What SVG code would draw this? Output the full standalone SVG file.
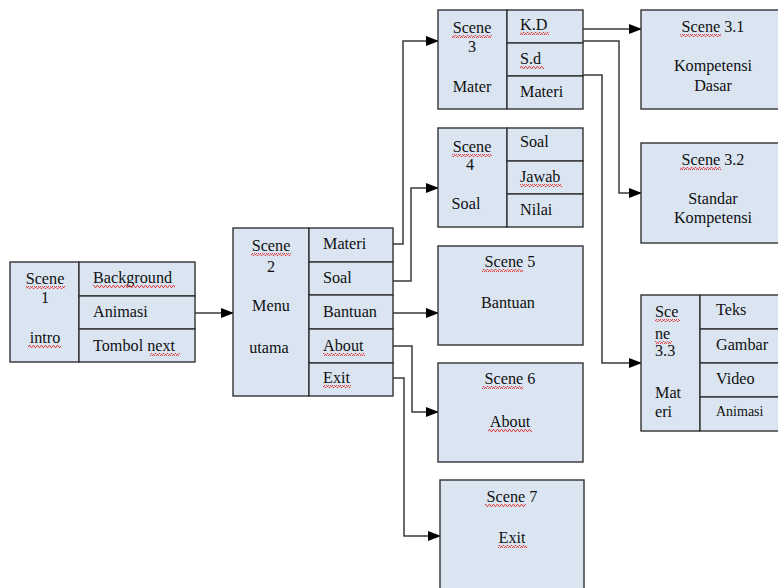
<svg xmlns="http://www.w3.org/2000/svg" width="778" height="588" viewBox="0 0 778 588">
<style>
.bx{fill:#dbe5f1;stroke:#333;stroke-width:1.4}
.t{font-family:"Liberation Serif","Times New Roman",serif;font-size:16.2px;fill:#111}
.c{text-anchor:middle}
.sm{font-size:14px}
.ln{fill:none;stroke:#3a3a3a;stroke-width:1.5}
.sq{fill:url(#wave)}
</style>
<defs>
<marker id="ah" markerWidth="13" markerHeight="10" refX="12" refY="5" orient="auto" markerUnits="userSpaceOnUse">
<path d="M0,0 L13,5 L0,10 Z" fill="#000"/>
</marker>
<pattern id="wave" width="4" height="3" patternUnits="userSpaceOnUse">
<path d="M0,2.5 L1,0.5 L2,0.5 L3,2.5 L4,2.5" fill="none" stroke="#e03030" stroke-width="0.9"/>
</pattern>
</defs>
<rect width="778" height="588" fill="#fff"/>

<g id="connectors">
<path class="ln" d="M195,313 H233" marker-end="url(#ah)"/>
<path class="ln" d="M393,244 H403 V41 H438" marker-end="url(#ah)"/>
<path class="ln" d="M393,281 H411 V188 H438" marker-end="url(#ah)"/>
<path class="ln" d="M393,313 H438" marker-end="url(#ah)"/>
<path class="ln" d="M393,346 H412 V412 H438" marker-end="url(#ah)"/>
<path class="ln" d="M393,378 H404 V536 H440" marker-end="url(#ah)"/>
<path class="ln" d="M583,29 H641" marker-end="url(#ah)"/>
<path class="ln" d="M583,41 H619 V193 H641" marker-end="url(#ah)"/>
<path class="ln" d="M583,75 H602 V363 H641" marker-end="url(#ah)"/>
</g>

<g id="scene1">
<rect class="bx" x="10" y="262" width="69" height="100"/>
<rect class="bx" x="79" y="262" width="116" height="34"/>
<rect class="bx" x="79" y="296" width="116" height="33"/>
<rect class="bx" x="79" y="329" width="116" height="33"/>
<text class="t c" x="45" y="284">Scene</text>
<text class="t c" x="45" y="303">1</text>
<text class="t c" x="45" y="343">intro</text>
<text class="t" x="93" y="283">Background</text>
<text class="t" x="93" y="317">Animasi</text>
<text class="t" x="93" y="351">Tombol next</text>
<rect class="sq" x="26" y="286" width="39" height="3"/>
<rect class="sq" x="28" y="345" width="33" height="3"/>
<rect class="sq" x="93" y="285" width="82" height="3"/>
<rect class="sq" x="150" y="353" width="30" height="3"/>
</g>

<g id="scene2">
<rect class="bx" x="233" y="228" width="76" height="168"/>
<rect class="bx" x="309" y="228" width="84" height="34"/>
<rect class="bx" x="309" y="262" width="84" height="33"/>
<rect class="bx" x="309" y="295" width="84" height="34"/>
<rect class="bx" x="309" y="329" width="84" height="34"/>
<rect class="bx" x="309" y="363" width="84" height="33"/>
<text class="t c" x="271" y="251">Scene</text>
<text class="t c" x="271" y="272">2</text>
<text class="t c" x="271" y="311">Menu</text>
<text class="t c" x="269" y="353">utama</text>
<text class="t" x="323" y="249">Materi</text>
<text class="t" x="323" y="283">Soal</text>
<text class="t" x="323" y="317">Bantuan</text>
<text class="t" x="323" y="351">About</text>
<text class="t" x="323" y="383">Exit</text>
<rect class="sq" x="251" y="253" width="40" height="3"/>
<rect class="sq" x="323" y="353" width="42" height="3"/>
<rect class="sq" x="323" y="385" width="28" height="3"/>
</g>

<g id="scene3">
<rect class="bx" x="438" y="10" width="69" height="99"/>
<rect class="bx" x="507" y="10" width="76" height="33"/>
<rect class="bx" x="507" y="43" width="76" height="33"/>
<rect class="bx" x="507" y="76" width="76" height="33"/>
<text class="t c" x="472" y="33">Scene</text>
<text class="t c" x="472" y="52">3</text>
<text class="t c" x="472" y="92">Mater</text>
<text class="t" x="520" y="30">K.D</text>
<text class="t" x="520" y="64">S.d</text>
<text class="t" x="520" y="97">Materi</text>
<rect class="sq" x="452" y="35" width="40" height="3"/>
<rect class="sq" x="520" y="32" width="29" height="3"/>
<rect class="sq" x="520" y="66" width="24" height="3"/>
</g>

<g id="scene4">
<rect class="bx" x="438" y="128" width="69" height="99"/>
<rect class="bx" x="507" y="128" width="76" height="33"/>
<rect class="bx" x="507" y="161" width="76" height="33"/>
<rect class="bx" x="507" y="194" width="76" height="33"/>
<text class="t c" x="472" y="152">Scene</text>
<text class="t c" x="470" y="170">4</text>
<text class="t c" x="466" y="209">Soal</text>
<text class="t" x="520" y="147">Soal</text>
<text class="t" x="520" y="182">Jawab</text>
<text class="t" x="520" y="215">Nilai</text>
<rect class="sq" x="452" y="154" width="40" height="3"/>
<rect class="sq" x="520" y="184" width="42" height="3"/>
</g>

<g id="scene5">
<rect class="bx" x="438" y="246" width="145" height="99"/>
<text class="t c" x="510" y="267">Scene 5</text>
<text class="t c" x="508" y="308">Bantuan</text>
<rect class="sq" x="482" y="269" width="41" height="3"/>
</g>

<g id="scene6">
<rect class="bx" x="438" y="363" width="145" height="99"/>
<text class="t c" x="510" y="384">Scene 6</text>
<text class="t c" x="510" y="427">About</text>
<rect class="sq" x="482" y="386" width="41" height="3"/>
<rect class="sq" x="488" y="429" width="44" height="3"/>
</g>

<g id="scene7">
<rect class="bx" x="440" y="480" width="144" height="120"/>
<text class="t c" x="512" y="502">Scene 7</text>
<text class="t c" x="512" y="543">Exit</text>
<rect class="sq" x="485" y="504" width="41" height="3"/>
<rect class="sq" x="498" y="545" width="29" height="3"/>
</g>

<g id="scene3_1">
<rect class="bx" x="641" y="10" width="150" height="99"/>
<text class="t c" x="713" y="32">Scene 3.1</text>
<text class="t c" x="713" y="71">Kompetensi</text>
<text class="t c" x="713" y="91">Dasar</text>
<rect class="sq" x="680" y="34" width="41" height="3"/>
</g>

<g id="scene3_2">
<rect class="bx" x="641" y="143" width="150" height="100"/>
<text class="t c" x="713" y="165">Scene 3.2</text>
<text class="t c" x="713" y="204">Standar</text>
<text class="t c" x="713" y="223">Kompetensi</text>
<rect class="sq" x="680" y="167" width="41" height="3"/>
</g>

<g id="scene3_3">
<rect class="bx" x="641" y="295" width="59" height="136"/>
<rect class="bx" x="700" y="295" width="90" height="34"/>
<rect class="bx" x="700" y="329" width="90" height="34"/>
<rect class="bx" x="700" y="363" width="90" height="34"/>
<rect class="bx" x="700" y="397" width="90" height="34"/>
<text class="t" x="655" y="317">Sce</text>
<text class="t" x="655" y="339">ne</text>
<text class="t" x="655" y="356">3.3</text>
<text class="t" x="655" y="398">Mat</text>
<text class="t" x="655" y="417">eri</text>
<text class="t" x="716" y="315">Teks</text>
<text class="t" x="716" y="350">Gambar</text>
<text class="t" x="716" y="384">Video</text>
<text class="t sm" x="716" y="416">Animasi</text>
<rect class="sq" x="655" y="319" width="25" height="3"/>
<rect class="sq" x="655" y="341" width="17" height="3"/>
</g>
</svg>
